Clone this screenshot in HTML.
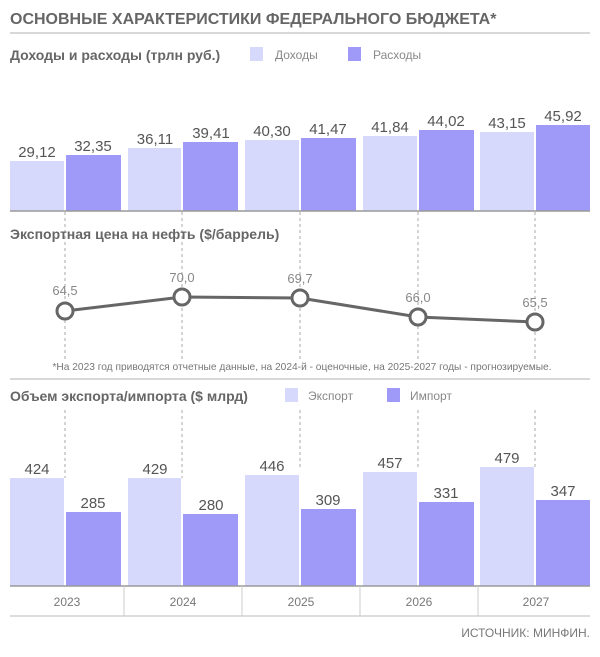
<!DOCTYPE html>
<html><head><meta charset="utf-8"><style>
body{margin:0;background:#fff;}
svg{display:block;font-family:"Liberation Sans",sans-serif;}
</style></head><body>
<svg width="600" height="657" viewBox="0 0 600 657">
<text x="10" y="24" font-size="16" font-weight="bold" fill="#666">ОСНОВНЫЕ ХАРАКТЕРИСТИКИ ФЕДЕРАЛЬНОГО БЮДЖЕТА*</text>
<line x1="10" y1="33" x2="590" y2="33" stroke="#ccc" stroke-width="1.5"/>
<text x="10" y="60" font-size="14" font-weight="bold" fill="#666">Доходы и расходы (трлн руб.)</text>
<rect x="250" y="47" width="13" height="14" fill="#d6d8fc"/><text x="275" y="59" font-size="12" fill="#888">Доходы</text>
<rect x="348" y="47" width="13" height="14" fill="#9f9af7"/><text x="373" y="59" font-size="12" fill="#888">Расходы</text>
<g stroke="#aaa" stroke-dasharray="3,3" stroke-width="1">
<line x1="65" y1="212" x2="65" y2="360"/><line x1="182" y1="212" x2="182" y2="360"/><line x1="300" y1="212" x2="300" y2="360"/><line x1="418" y1="212" x2="418" y2="360"/><line x1="535" y1="212" x2="535" y2="360"/>
<line x1="65" y1="410" x2="65" y2="478"/><line x1="182" y1="410" x2="182" y2="478"/><line x1="300" y1="410" x2="300" y2="470"/><line x1="418" y1="410" x2="418" y2="470"/><line x1="535" y1="410" x2="535" y2="467"/>
</g>
<g font-size="15" fill="#555" text-anchor="middle">
<rect x="10" y="161" width="54" height="50" fill="#d6d8fc"/><text x="37" y="157">29,12</text>
<rect x="66" y="155" width="55" height="56" fill="#9f9af7"/><text x="93" y="151">32,35</text>
<rect x="128" y="148" width="53" height="63" fill="#d6d8fc"/><text x="155" y="144">36,11</text>
<rect x="183" y="142" width="55" height="69" fill="#9f9af7"/><text x="211" y="138">39,41</text>
<rect x="245" y="140" width="54" height="71" fill="#d6d8fc"/><text x="272" y="136">40,30</text>
<rect x="301" y="138" width="55" height="73" fill="#9f9af7"/><text x="328" y="134">41,47</text>
<rect x="363" y="136" width="54" height="75" fill="#d6d8fc"/><text x="390" y="132">41,84</text>
<rect x="419" y="130" width="55" height="81" fill="#9f9af7"/><text x="446" y="126">44,02</text>
<rect x="480" y="132" width="54" height="79" fill="#d6d8fc"/><text x="507" y="128">43,15</text>
<rect x="536" y="125" width="54" height="86" fill="#9f9af7"/><text x="563" y="121">45,92</text>
</g>
<line x1="10" y1="211" x2="590" y2="211" stroke="#999" stroke-width="1.5"/>
<text x="10" y="239" font-size="14" font-weight="bold" fill="#666">Экспортная цена на нефть ($/баррель)</text>
<polyline points="65,311 182,297 300,298 418,317 535,322" fill="none" stroke="#666" stroke-width="3"/>
<g fill="#fff" stroke="#666" stroke-width="3">
<circle cx="65" cy="311" r="8"/><circle cx="182" cy="297" r="8"/><circle cx="300" cy="298" r="8"/><circle cx="418" cy="317" r="8"/><circle cx="535" cy="322" r="8"/>
</g>
<g font-size="13" fill="#888" text-anchor="middle">
<text x="65" y="295">64,5</text><text x="182" y="282">70,0</text><text x="300" y="283">69,7</text><text x="418" y="302">66,0</text><text x="535" y="307">65,5</text>
</g>
<text x="302" y="370" font-size="10.2" fill="#777" text-anchor="middle">*На 2023 год приводятся отчетные данные, на 2024-й - оценочные, на 2025-2027 годы - прогнозируемые.</text>
<line x1="10" y1="379" x2="590" y2="379" stroke="#ccc" stroke-width="1.5"/>
<text x="10" y="401" font-size="14" font-weight="bold" fill="#666">Объем экспорта/импорта ($ млрд)</text>
<rect x="285" y="388" width="13" height="14" fill="#d6d8fc"/><text x="308" y="400" font-size="12" fill="#888">Экспорт</text>
<rect x="387" y="388" width="13" height="14" fill="#9f9af7"/><text x="410" y="400" font-size="12" fill="#888">Импорт</text>
<g font-size="15" fill="#555" text-anchor="middle">
<rect x="10" y="478" width="54" height="108" fill="#d6d8fc"/><text x="37" y="474">424</text>
<rect x="66" y="512" width="55" height="74" fill="#9f9af7"/><text x="93" y="508">285</text>
<rect x="128" y="478" width="53" height="108" fill="#d6d8fc"/><text x="155" y="474">429</text>
<rect x="183" y="514" width="55" height="72" fill="#9f9af7"/><text x="211" y="510">280</text>
<rect x="245" y="475" width="54" height="111" fill="#d6d8fc"/><text x="272" y="471">446</text>
<rect x="301" y="509" width="55" height="77" fill="#9f9af7"/><text x="328" y="505">309</text>
<rect x="363" y="472" width="54" height="114" fill="#d6d8fc"/><text x="390" y="468">457</text>
<rect x="419" y="502" width="55" height="84" fill="#9f9af7"/><text x="446" y="498">331</text>
<rect x="480" y="467" width="54" height="119" fill="#d6d8fc"/><text x="507" y="463">479</text>
<rect x="536" y="500" width="54" height="86" fill="#9f9af7"/><text x="563" y="496">347</text>
</g>
<line x1="10" y1="586" x2="590" y2="586" stroke="#999" stroke-width="1.5"/>
<line x1="10" y1="616" x2="590" y2="616" stroke="#bbb" stroke-width="1"/>
<g stroke="#ccc"><line x1="124" y1="586" x2="124" y2="616"/><line x1="242" y1="586" x2="242" y2="616"/><line x1="360" y1="586" x2="360" y2="616"/><line x1="478" y1="586" x2="478" y2="616"/></g>
<g font-size="12" fill="#777" text-anchor="middle">
<text x="67" y="606">2023</text><text x="183" y="606">2024</text><text x="301" y="606">2025</text><text x="419" y="606">2026</text><text x="536" y="606">2027</text>
</g>
<text x="590" y="637" font-size="12" fill="#777" text-anchor="end">ИСТОЧНИК: МИНФИН.</text>
</svg>
</body></html>
